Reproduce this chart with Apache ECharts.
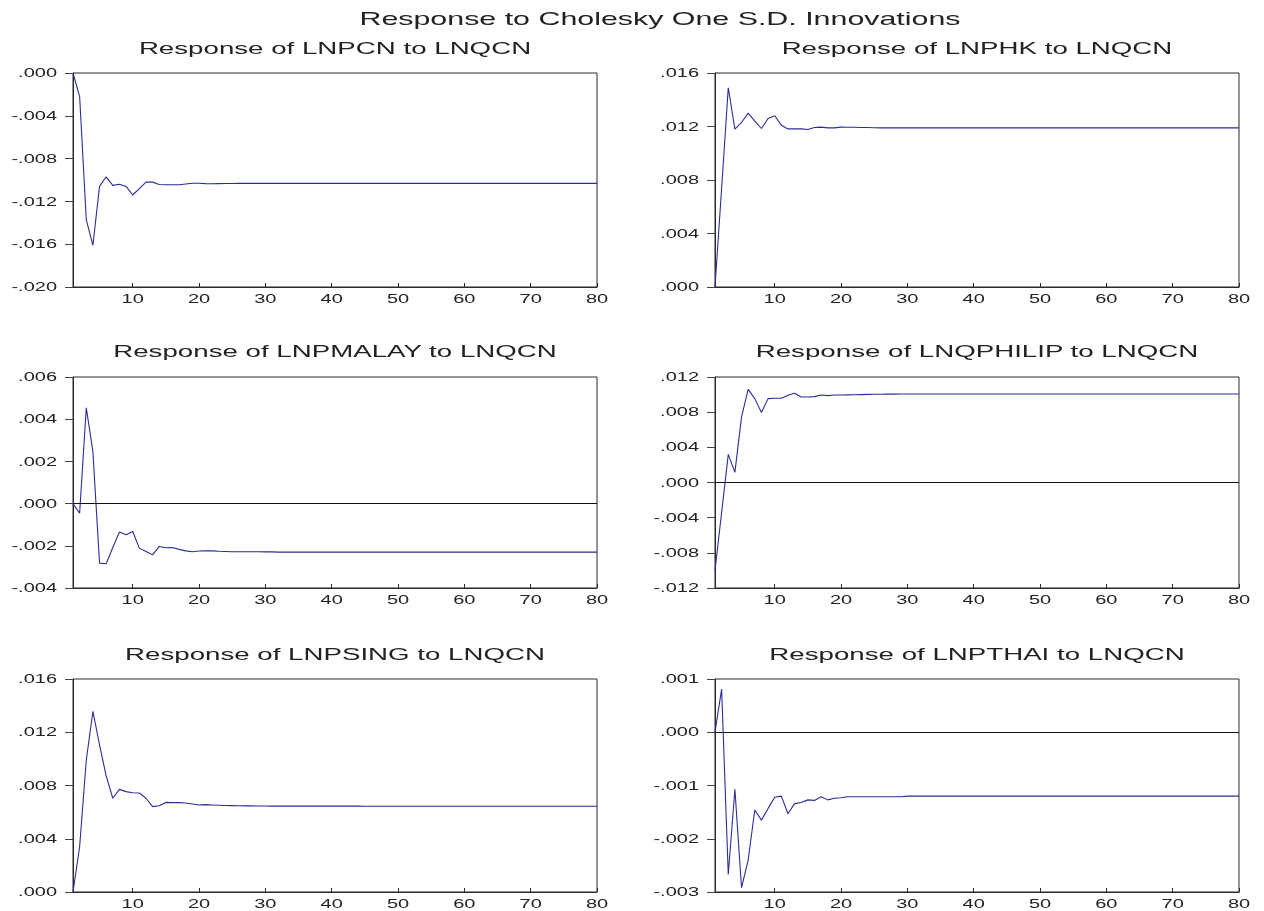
<!DOCTYPE html>
<html>
<head>
<meta charset="utf-8">
<script src="https://cdn.jsdelivr.net/npm/echarts@6/dist/echarts.min.js"></script>
<style>
html,body{margin:0;padding:0;background:#fff;}
#wrap{position:relative;width:1264px;height:911px;overflow:hidden;}
#chart{position:absolute;left:0;top:0;width:1264px;height:911px;}
#labels{position:absolute;left:0;top:0;height:911px;transform-origin:0 0;pointer-events:none;}
</style>
</head>
<body>
<div id="wrap"><div id="chart"></div><div id="labels"></div></div>
<script>
// ---- data ----
const mainTitle = "Response to Cholesky One S.D. Innovations";
const panelTitles = [
  "Response of LNPCN to LNQCN",
  "Response of LNPHK to LNQCN",
  "Response of LNPMALAY to LNQCN",
  "Response of LNQPHILIP to LNQCN",
  "Response of LNPSING to LNQCN",
  "Response of LNPTHAI to LNQCN"
];
const periods = Array.from({length: 80}, (_, i) => String(i + 1));

const lnpcn = [
  0.0000, -0.0022, -0.0137, -0.0161, -0.0106, -0.0097, -0.0105, -0.0104, -0.0106, -0.0114,
  -0.0108, -0.0102, -0.0102, -0.01042, -0.01044, -0.01045, -0.01045, -0.01038, -0.01031, -0.01031,
  -0.01034, -0.01035, -0.01034, -0.01033, -0.01033, -0.01032, -0.01032, -0.01032, -0.01032, -0.01032,
  -0.01032, -0.01032, -0.01032, -0.01032, -0.01032, -0.01032, -0.01032, -0.01032, -0.01032, -0.01032,
  -0.01032, -0.01032, -0.01032, -0.01032, -0.01032, -0.01032, -0.01032, -0.01032, -0.01032, -0.01032,
  -0.01032, -0.01032, -0.01032, -0.01032, -0.01032, -0.01032, -0.01032, -0.01032, -0.01032, -0.01032,
  -0.01032, -0.01032, -0.01032, -0.01032, -0.01032, -0.01032, -0.01032, -0.01032, -0.01032, -0.01032,
  -0.01032, -0.01032, -0.01032, -0.01032, -0.01032, -0.01032, -0.01032, -0.01032, -0.01032, -0.01032
];
const lnphk = [
  0.0000, 0.0074, 0.0149, 0.0118, 0.0123, 0.0130, 0.0124, 0.01185, 0.0126, 0.0128,
  0.0121, 0.01182, 0.01182, 0.01182, 0.01177, 0.01192, 0.01195, 0.0119, 0.0119, 0.01195,
  0.01194, 0.01194, 0.01193, 0.01192, 0.01191, 0.0119, 0.0119, 0.0119, 0.0119, 0.0119,
  0.0119, 0.0119, 0.0119, 0.0119, 0.0119, 0.0119, 0.0119, 0.0119, 0.0119, 0.0119,
  0.0119, 0.0119, 0.0119, 0.0119, 0.0119, 0.0119, 0.0119, 0.0119, 0.0119, 0.0119,
  0.0119, 0.0119, 0.0119, 0.0119, 0.0119, 0.0119, 0.0119, 0.0119, 0.0119, 0.0119,
  0.0119, 0.0119, 0.0119, 0.0119, 0.0119, 0.0119, 0.0119, 0.0119, 0.0119, 0.0119,
  0.0119, 0.0119, 0.0119, 0.0119, 0.0119, 0.0119, 0.0119, 0.0119, 0.0119, 0.0119
];
const lnpmalay = [
  0.0000, -0.00046, 0.00454, 0.00246, -0.00282, -0.00285, -0.00208, -0.00135, -0.00148, -0.00132,
  -0.00211, -0.00227, -0.00243, -0.00203, -0.00209, -0.00208, -0.00217, -0.00224, -0.00228, -0.00225,
  -0.00224, -0.00224, -0.00226, -0.00227, -0.00228, -0.00228, -0.00228, -0.00228, -0.00228, -0.00229,
  -0.00229, -0.0023, -0.0023, -0.0023, -0.0023, -0.0023, -0.0023, -0.0023, -0.0023, -0.0023,
  -0.0023, -0.0023, -0.0023, -0.0023, -0.0023, -0.0023, -0.0023, -0.0023, -0.0023, -0.0023,
  -0.0023, -0.0023, -0.0023, -0.0023, -0.0023, -0.0023, -0.0023, -0.0023, -0.0023, -0.0023,
  -0.0023, -0.0023, -0.0023, -0.0023, -0.0023, -0.0023, -0.0023, -0.0023, -0.0023, -0.0023,
  -0.0023, -0.0023, -0.0023, -0.0023, -0.0023, -0.0023, -0.0023, -0.0023, -0.0023, -0.0023
];
const lnqphilip = [
  -0.0100, -0.0034, 0.0032, 0.00115, 0.00746, 0.0106, 0.00954, 0.00795, 0.00954, 0.00958,
  0.00958, 0.00992, 0.01015, 0.00973, 0.00973, 0.00977, 0.00996, 0.00988, 0.00996, 0.00996,
  0.00997, 0.00998, 0.0100, 0.01002, 0.01003, 0.01004, 0.01005, 0.01005, 0.01006, 0.01006,
  0.01007, 0.01007, 0.01007, 0.01007, 0.01007, 0.01007, 0.01007, 0.01007, 0.01007, 0.01007,
  0.01007, 0.01007, 0.01007, 0.01007, 0.01007, 0.01007, 0.01007, 0.01007, 0.01007, 0.01007,
  0.01007, 0.01007, 0.01007, 0.01007, 0.01007, 0.01007, 0.01007, 0.01007, 0.01007, 0.01007,
  0.01007, 0.01007, 0.01007, 0.01007, 0.01007, 0.01007, 0.01007, 0.01007, 0.01007, 0.01007,
  0.01007, 0.01007, 0.01007, 0.01007, 0.01007, 0.01007, 0.01007, 0.01007, 0.01007, 0.01007
];
const lnpsing = [
  0.0000, 0.0034, 0.0099, 0.01357, 0.01106, 0.00872, 0.00704, 0.00771, 0.00754, 0.00746,
  0.00744, 0.00704, 0.00641, 0.00648, 0.00673, 0.00671, 0.00671, 0.00668, 0.00661, 0.00653,
  0.00656, 0.00654, 0.00652, 0.0065, 0.00649, 0.00648, 0.00647, 0.00647, 0.00646, 0.00646,
  0.00645, 0.00645, 0.00645, 0.00645, 0.00645, 0.00645, 0.00645, 0.00645, 0.00645, 0.00645,
  0.00645, 0.00645, 0.00645, 0.00645, 0.00644, 0.00644, 0.00644, 0.00644, 0.00644, 0.00644,
  0.00644, 0.00644, 0.00644, 0.00644, 0.00644, 0.00644, 0.00644, 0.00644, 0.00644, 0.00644,
  0.00644, 0.00644, 0.00644, 0.00644, 0.00644, 0.00644, 0.00644, 0.00644, 0.00644, 0.00644,
  0.00644, 0.00644, 0.00644, 0.00644, 0.00644, 0.00644, 0.00644, 0.00644, 0.00644, 0.00644
];
const lnpthai = [
  0.0000, 0.00081, -0.00267, -0.00107, -0.00292, -0.0024, -0.00146, -0.00165, -0.00143, -0.00122,
  -0.0012, -0.00153, -0.00134, -0.00132, -0.00127, -0.00128, -0.00121, -0.00127, -0.00124, -0.00123,
  -0.00121, -0.00121, -0.00121, -0.00121, -0.00121, -0.00121, -0.00121, -0.00121, -0.00121, -0.0012,
  -0.0012, -0.0012, -0.0012, -0.0012, -0.0012, -0.0012, -0.0012, -0.0012, -0.0012, -0.0012,
  -0.0012, -0.0012, -0.0012, -0.0012, -0.0012, -0.0012, -0.0012, -0.0012, -0.0012, -0.0012,
  -0.0012, -0.0012, -0.0012, -0.0012, -0.0012, -0.0012, -0.0012, -0.0012, -0.0012, -0.0012,
  -0.0012, -0.0012, -0.0012, -0.0012, -0.0012, -0.0012, -0.0012, -0.0012, -0.0012, -0.0012,
  -0.0012, -0.0012, -0.0012, -0.0012, -0.0012, -0.0012, -0.0012, -0.0012, -0.0012, -0.0012
];
const seriesData = [lnpcn, lnphk, lnpmalay, lnqphilip, lnpsing, lnpthai];
// y-axis ranges [min, max, interval]
const yRanges = [
  [-0.020, 0.000, 0.004],
  [0.000, 0.016, 0.004],
  [-0.004, 0.006, 0.002],
  [-0.012, 0.012, 0.004],
  [0.000, 0.016, 0.004],
  [-0.003, 0.001, 0.001]
];
const zeroLine = [false, false, true, true, false, true];

// ---- layout ----
const W = 1264, H = 911;
const S = 1.6;                 // horizontal stretch of the lettering
const colLeft = [73, 715];
const plotW = 524;
const rowTop = [73, 377, 679];
const rowH = [214, 211, 213];
const titleY = [48, 351, 654];

const LINE_COLOR = '#2d2d98';
const AXIS_COLOR = '#2a2a2a';
const TEXT_COLOR = '#222';
const FONT = '"Liberation Sans", Arial, sans-serif';

function fmtY(v) {
  let s = Math.abs(v) < 1e-12 ? '0.000' : v.toFixed(3);
  return s.replace(/^(-?)0\./, '$1.');
}
const tenth = (i) => (i + 1) % 10 === 0;

// ---- layer A: frames, ticks, lines ----
const grids = [], xAxes = [], yAxes = [], series = [];
// ---- layer B: lettering (stretched horizontally) ----
const gridsB = [], xAxesB = [], yAxesB = [], graphicsB = [];

graphicsB.push({
  type: 'text', x: 660 / S, y: 18, silent: true,
  style: { text: mainTitle, font: '19px ' + FONT, fill: TEXT_COLOR,
           textAlign: 'center', textVerticalAlign: 'middle', align: 'center', verticalAlign: 'middle' }
});

for (let k = 0; k < 6; k++) {
  const r = Math.floor(k / 2), c = k % 2;
  const [mn, mx, iv] = yRanges[k];

  grids.push({ left: colLeft[c], top: rowTop[r], width: plotW, height: rowH[r],
               show: true, borderColor: AXIS_COLOR, borderWidth: 1, backgroundColor: 'transparent' });
  xAxes.push({
    gridIndex: k, type: 'category', data: periods, boundaryGap: false, position: 'bottom',
    axisLine: { show: true, onZero: false, lineStyle: { color: AXIS_COLOR, width: 1 } },
    axisTick: { show: true, inside: true, length: 4, interval: tenth, lineStyle: { color: AXIS_COLOR } },
    axisLabel: { show: false },
    splitLine: { show: false }
  });
  yAxes.push({
    gridIndex: k, type: 'value', min: mn, max: mx, interval: iv,
    axisLine: { show: true, onZero: false, lineStyle: { color: AXIS_COLOR, width: 1 } },
    axisTick: { show: true, inside: false, length: 8, lineStyle: { color: '#444' } },
    axisLabel: { show: false },
    splitLine: { show: false }
  });
  const s = {
    type: 'line', xAxisIndex: k, yAxisIndex: k, data: seriesData[k],
    symbol: 'none', showSymbol: false, animation: false,
    lineStyle: { color: LINE_COLOR, width: 1.1 }, itemStyle: { color: LINE_COLOR }
  };
  if (zeroLine[k]) {
    s.markLine = { silent: true, symbol: ['none', 'none'], label: { show: false }, animation: false,
                   lineStyle: { color: '#111', type: 'solid', width: 1 }, data: [{ yAxis: 0 }] };
  }
  series.push(s);

  gridsB.push({ left: colLeft[c] / S, top: rowTop[r], width: plotW / S, height: rowH[r], show: false });
  xAxesB.push({
    gridIndex: k, type: 'category', data: periods, boundaryGap: false, position: 'bottom',
    axisLine: { show: false, onZero: false }, axisTick: { show: false }, splitLine: { show: false },
    axisLabel: { show: true, interval: tenth, margin: 5, color: TEXT_COLOR, fontFamily: FONT, fontSize: 12.5 }
  });
  yAxesB.push({
    gridIndex: k, type: 'value', min: mn, max: mx, interval: iv,
    axisLine: { show: false, onZero: false }, axisTick: { show: false }, splitLine: { show: false },
    axisLabel: { show: true, margin: 10, color: TEXT_COLOR, formatter: fmtY, fontFamily: FONT, fontSize: 12.5 }
  });
  graphicsB.push({
    type: 'text', x: (colLeft[c] + plotW / 2) / S, y: titleY[r], silent: true,
    style: { text: panelTitles[k], font: '17.3px ' + FONT, fill: TEXT_COLOR,
             textAlign: 'center', textVerticalAlign: 'middle', align: 'center', verticalAlign: 'middle' }
  });
}

const chart = echarts.init(document.getElementById('chart'), null, { renderer: 'canvas' });
chart.setOption({
  animation: false,
  backgroundColor: '#fff',
  grid: grids, xAxis: xAxes, yAxis: yAxes, series: series
});

const lab = document.getElementById('labels');
lab.style.width = (W / S) + 'px';
lab.style.transform = 'scaleX(' + S + ')';
const chartB = echarts.init(lab, null, { renderer: 'svg' });
chartB.setOption({
  animation: false,
  backgroundColor: 'transparent',
  grid: gridsB, xAxis: xAxesB, yAxis: yAxesB,
  graphic: graphicsB
});
</script>
</body>
</html>
